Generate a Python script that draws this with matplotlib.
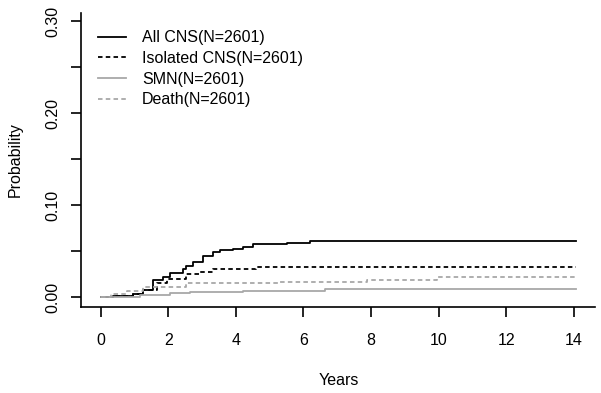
import numpy as np
import matplotlib
matplotlib.use('Agg')
import matplotlib.pyplot as plt

plt.rcParams['font.family'] = ['Liberation Sans', 'DejaVu Sans']

# cumulative incidence curves (years, probability)
all_cns_t = [0.0, 0.37, 0.97, 1.26, 1.56, 1.85, 2.05, 2.44, 2.54, 2.74, 3.04,
             3.33, 3.53, 3.92, 4.22, 4.51, 5.50, 6.19, 14.05]
all_cns_p = [0.0, 0.001, 0.003, 0.0076, 0.0185, 0.022, 0.0257, 0.031, 0.0337,
             0.038, 0.0446, 0.0485, 0.051, 0.0518, 0.054, 0.0576, 0.059, 0.0612, 0.0612]

iso_cns_t = [0.0, 0.37, 0.97, 1.26, 1.66, 1.95, 2.54, 2.93, 3.33, 4.60, 14.05]
iso_cns_p = [0.0, 0.001, 0.003, 0.0076, 0.015, 0.020, 0.025, 0.0275, 0.0304, 0.0322, 0.0322]

smn_t = [0.0, 1.16, 2.05, 2.64, 4.22, 6.64, 14.05]
smn_p = [0.0, 0.002, 0.004, 0.0058, 0.0069, 0.0083, 0.0083]

death_t = [0.0, 0.30, 0.77, 1.26, 2.54, 5.25, 7.87, 9.94, 14.05]
death_p = [0.0, 0.003, 0.007, 0.011, 0.015, 0.0167, 0.0185, 0.0214, 0.0214]

labels = ['All CNS(N=2601)', 'Isolated CNS(N=2601)', 'SMN(N=2601)', 'Death(N=2601)']
x_ticks = [0, 2, 4, 6, 8, 10, 12, 14]
y_ticks = [0.00, 0.05, 0.10, 0.15, 0.20, 0.25, 0.30]
y_ticklabels = ['0.00', '', '0.10', '', '0.20', '', '0.30']

fig = plt.figure(figsize=(6.01, 3.93), dpi=100)
ax = fig.add_axes([0.1348, 0.2188, 0.855, 0.748])

gray = '#a8a8a8'
ax.step(all_cns_t, all_cns_p, where='post', color='black', lw=1.3, label=labels[0])
ax.step(iso_cns_t, iso_cns_p, where='post', color='black', lw=1.3,
        linestyle=(0, (2.5, 1.8)), label=labels[1])
ax.step(smn_t, smn_p, where='post', color=gray, lw=1.3, label=labels[2])
ax.step(death_t, death_p, where='post', color=gray, lw=1.3,
        linestyle=(0, (2.5, 1.8)), label=labels[3])

ax.set_xlim(-0.58, 14.62)
ax.set_ylim(-0.0109, 0.309)
ax.spines['top'].set_visible(False)
ax.spines['right'].set_visible(False)
for s in ['left', 'bottom']:
    ax.spines[s].set_linewidth(1.2)

ax.set_xticks(x_ticks)
ax.set_xticklabels([str(v) for v in x_ticks])
ax.set_yticks(y_ticks)
ax.set_yticklabels(y_ticklabels, rotation=90, va='center')
ax.tick_params(axis='both', length=7, width=1.2, labelsize=11.5, colors='black')
ax.tick_params(axis='x', pad=12)
ax.tick_params(axis='y', pad=8)

fig.text(0.5632, 0.033, 'Years', ha='center', va='center', fontsize=11.5)
fig.text(0.025, 0.593, 'Probability', ha='center', va='center', rotation=90, fontsize=11.5)

leg = ax.legend(loc='upper left', bbox_to_anchor=(0.008, 0.985), frameon=False,
                fontsize=11.5, handlelength=1.75, handletextpad=1.0,
                labelspacing=0.36, borderaxespad=0.4)

fig.savefig('out.png', dpi=100)
